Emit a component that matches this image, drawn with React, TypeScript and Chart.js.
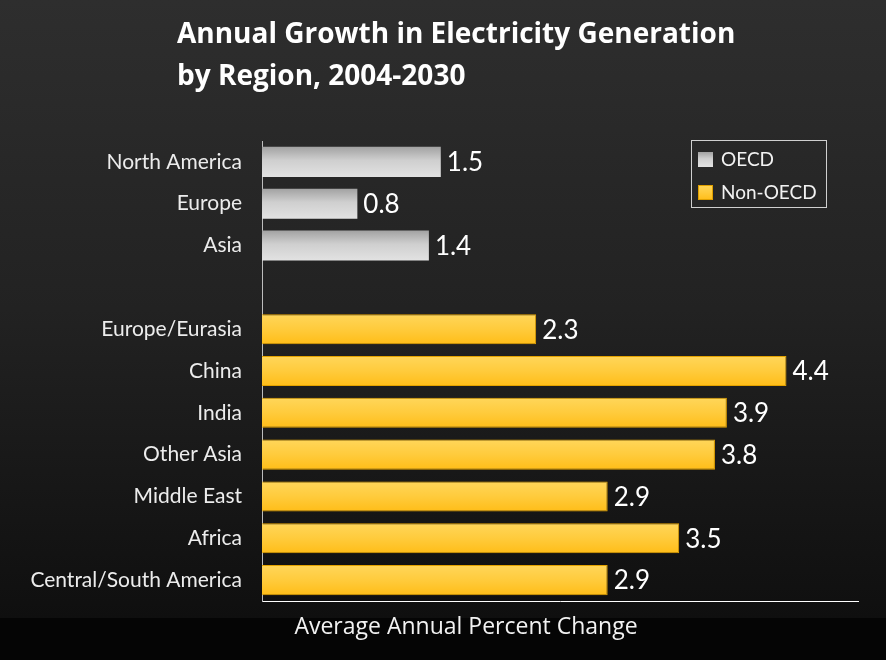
import { useEffect, useRef } from "react";
import { Chart, registerables } from "chart.js";

Chart.register(...registerables);

const categories = [
  "North America",
  "Europe",
  "Asia",
  "",
  "Europe/Eurasia",
  "China",
  "India",
  "Other Asia",
  "Middle East",
  "Africa",
  "Central/South America",
];
const oecdValues = [1.5, 0.8, 1.4, null, null, null, null, null, null, null, null];
const nonOecdValues = [null, null, null, null, 2.3, 4.4, 3.9, 3.8, 2.9, 3.5, 2.9];
const seriesLabels = ["OECD", "Non-OECD"];
const titleLines = ["Annual Growth in Electricity Generation", "by Region, 2004-2030"];
const xAxisTitle = "Average Annual Percent Change";
const xMin = 0;
const xMax = 5;

const FONT = "Lato, 'Open Sans', sans-serif";
const WIDE_FONT = "'Open Sans', Lato, sans-serif";
const BAR_PCT = 0.72;

const grayStops: [number, string][] = [
  [0, "#a2a2a2"],
  [0.45, "#cfcfcf"],
  [1, "#e2e2e2"],
];
const yellowStops: [number, string][] = [
  [0, "#ffd65a"],
  [0.5, "#ffcb3c"],
  [1, "#ffbd18"],
];

function barGradient(stops: [number, string][]) {
  return (ctx: any) => {
    const chart = ctx.chart;
    const y = chart.scales && chart.scales.y;
    if (!y || ctx.dataIndex == null || !isFinite(y.height)) return stops[1][1];
    const center = y.getPixelForValue(ctx.dataIndex);
    const half = ((y.height / categories.length) * BAR_PCT) / 2;
    if (!isFinite(center)) return stops[1][1];
    const g = chart.ctx.createLinearGradient(0, center - half, 0, center + half);
    stops.forEach(([o, c]) => g.addColorStop(o, c));
    return g;
  };
}

const backgroundPlugin = {
  id: "bg",
  beforeDraw(chart: any) {
    const { ctx, width, height } = chart;
    ctx.save();
    const g = ctx.createLinearGradient(0, 0, 0, 618);
    g.addColorStop(0, "#2e2e2e");
    g.addColorStop(0.5, "#222222");
    g.addColorStop(1, "#0f0f0f");
    ctx.fillStyle = g;
    ctx.fillRect(0, 0, width, 618);
    ctx.fillStyle = "#050505";
    ctx.fillRect(0, 618, width, height - 618);
    ctx.restore();
  },
};

const textPlugin = {
  id: "texts",
  afterDraw(chart: any) {
    const ctx = chart.ctx;
    ctx.save();
    // title
    ctx.fillStyle = "#ffffff";
    ctx.font = `bold 28px ${WIDE_FONT}`;
    ctx.textAlign = "left";
    ctx.textBaseline = "alphabetic";
    titleLines.forEach((line, i) => ctx.fillText(line, 177, 43 + i * 42));
    // x axis title
    ctx.font = `23px ${WIDE_FONT}`;
    ctx.textAlign = "center";
    ctx.textBaseline = "middle";
    ctx.fillStyle = "#f2f2f2";
    ctx.fillText(xAxisTitle, 466, 627);
    // legend
    const lx = 691,
      ly = 140,
      lw = 135,
      lh = 67;
    ctx.strokeStyle = "#d0d0d0";
    ctx.lineWidth = 1;
    ctx.strokeRect(lx + 0.5, ly + 0.5, lw, lh);
    const rows = [
      { label: seriesLabels[0], stops: grayStops, border: null, y: 159 },
      { label: seriesLabels[1], stops: yellowStops, border: "#e0a000", y: 192 },
    ];
    ctx.font = `19px ${FONT}`;
    ctx.textAlign = "left";
    rows.forEach((r) => {
      const sx = 698,
        sy = r.y - 7,
        s = 15;
      const g = ctx.createLinearGradient(0, sy, 0, sy + s);
      r.stops.forEach(([o, c]) => g.addColorStop(o, c));
      ctx.fillStyle = g;
      ctx.fillRect(sx, sy, s, s);
      if (r.border) {
        ctx.strokeStyle = r.border;
        ctx.strokeRect(sx + 0.5, sy + 0.5, s - 1, s - 1);
      }
      ctx.fillStyle = "#f2f2f2";
      ctx.fillText(r.label, 721, r.y + 1);
    });
    ctx.restore();
  },
  afterDatasetsDraw(chart: any) {
    const ctx = chart.ctx;
    ctx.save();
    ctx.font = `26px ${FONT}`;
    ctx.fillStyle = "#ffffff";
    ctx.textAlign = "left";
    ctx.textBaseline = "middle";
    chart.data.datasets.forEach((ds: any, di: number) => {
      const meta = chart.getDatasetMeta(di);
      meta.data.forEach((bar: any, i: number) => {
        const v = ds.data[i];
        if (v == null) return;
        ctx.fillText(Number(v).toFixed(1), bar.x + 6, bar.y + 1);
      });
    });
    ctx.restore();
  },
};

export default function App() {
  const ref = useRef<HTMLCanvasElement | null>(null);
  useEffect(() => {
    document.body.style.margin = "0";
    const canvas = ref.current;
    if (!canvas) return;
    const chart = new Chart(canvas, {
      type: "bar",
      data: {
        labels: categories,
        datasets: [
          {
            label: seriesLabels[0],
            data: oecdValues as any,
            backgroundColor: barGradient(grayStops),
            borderWidth: 0,
            grouped: false,
            barPercentage: BAR_PCT,
            categoryPercentage: 1,
          } as any,
          {
            label: seriesLabels[1],
            data: nonOecdValues as any,
            backgroundColor: barGradient(yellowStops),
            borderColor: "#e3a200",
            borderWidth: 1,
            grouped: false,
            barPercentage: BAR_PCT,
            categoryPercentage: 1,
          } as any,
        ],
      },
      options: {
        indexAxis: "y",
        responsive: false,
        animation: false,
        devicePixelRatio: 1,
        layout: { padding: { top: 141, right: 28, left: 0, bottom: 0 } },
        plugins: {
          legend: { display: false },
          title: { display: false },
          tooltip: { enabled: false },
        },
        scales: {
          x: {
            min: xMin,
            max: xMax,
            grid: { display: false, drawTicks: false },
            border: { display: true, color: "#ffffff", width: 1 },
            ticks: { display: false },
            afterFit(scale: any) {
              scale.height = 59;
            },
          },
          y: {
            grid: { display: false, drawTicks: false },
            border: { display: true, color: "#bdbdbd", width: 1 },
            ticks: {
              color: "#ececec",
              padding: 20,
              font: { family: FONT, size: 21 },
              autoSkip: false,
            },
            afterFit(scale: any) {
              scale.width = 262;
            },
          },
        },
      } as any,
      plugins: [backgroundPlugin, textPlugin],
    });
    return () => chart.destroy();
  }, []);
  return <canvas ref={ref} width={886} height={660} style={{ display: "block" }} />;
}
